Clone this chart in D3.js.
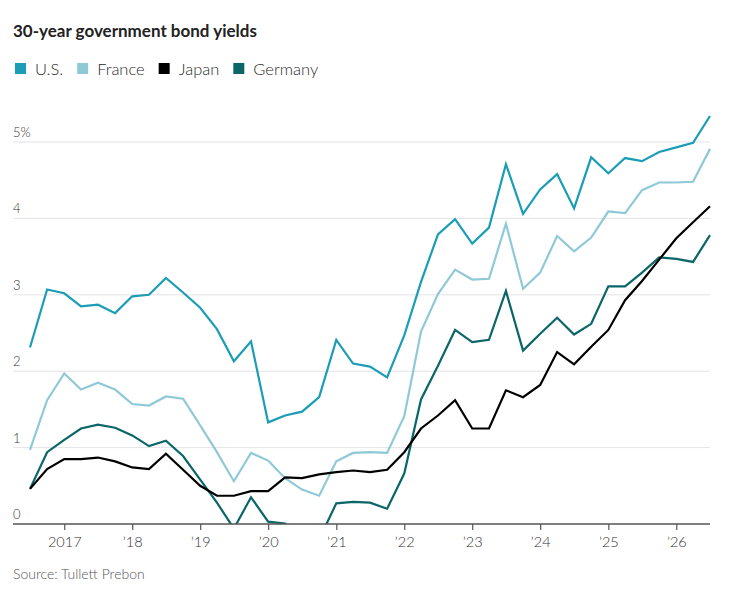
<!DOCTYPE html>
<html>
<head>
<meta charset="utf-8">
<script src="https://cdn.jsdelivr.net/npm/d3@7"></script>
<style>
  html, body { margin: 0; padding: 0; background: #fff; }
  svg { display: block; font-family: Lato, "Open Sans", sans-serif; }
</style>
</head>
<body>
<svg id="chart" width="730" height="598"></svg>
<script>
// ---- Data (quarterly) ----
const dates = [
  "2016-07-01","2016-10-01","2017-01-01","2017-04-01","2017-07-01","2017-10-01",
  "2018-01-01","2018-04-01","2018-07-01","2018-10-01","2019-01-01","2019-04-01",
  "2019-07-01","2019-10-01","2020-01-01","2020-04-01","2020-07-01","2020-10-01",
  "2021-01-01","2021-04-01","2021-07-01","2021-10-01","2022-01-01","2022-04-01",
  "2022-07-01","2022-10-01","2023-01-01","2023-04-01","2023-07-01","2023-10-01",
  "2024-01-01","2024-04-01","2024-07-01","2024-10-01","2025-01-01","2025-04-01",
  "2025-07-01","2025-10-01","2026-01-01","2026-04-01","2026-07-01"
];
const usYields = [2.31,3.07,3.02,2.85,2.87,2.76,2.98,3.00,3.22,3.03,2.83,2.55,2.13,2.39,1.33,1.42,1.47,1.66,2.41,2.10,2.06,1.92,2.47,3.17,3.79,3.99,3.67,3.88,4.71,4.06,4.38,4.58,4.13,4.80,4.59,4.79,4.75,4.87,4.93,4.99,5.34];
const franceYields = [0.97,1.62,1.97,1.76,1.85,1.76,1.57,1.55,1.67,1.64,1.29,0.94,0.56,0.93,0.83,0.60,0.45,0.37,0.82,0.93,0.94,0.93,1.41,2.52,3.01,3.33,3.20,3.21,3.93,3.08,3.29,3.77,3.57,3.75,4.09,4.07,4.37,4.47,4.47,4.48,4.91];
const japanYields = [0.46,0.72,0.85,0.85,0.87,0.82,0.74,0.72,0.92,0.71,0.50,0.37,0.37,0.43,0.43,0.61,0.60,0.65,0.68,0.70,0.68,0.71,0.94,1.25,1.42,1.62,1.25,1.25,1.75,1.66,1.82,2.25,2.09,2.32,2.54,2.93,3.18,3.46,3.74,3.95,4.16];
const germanyYields = [0.46,0.94,1.10,1.25,1.30,1.26,1.16,1.02,1.09,0.89,0.58,0.28,-0.06,0.35,0.03,0.005,-0.20,-0.20,0.27,0.29,0.28,0.20,0.66,1.63,2.07,2.54,2.38,2.41,3.05,2.27,2.49,2.70,2.48,2.62,3.11,3.11,3.29,3.49,3.47,3.43,3.78];

const seriesNames = ["U.S.", "France", "Japan", "Germany"];
const seriesColors = ["#1a9db5", "#8fc9d7", "#000000", "#0b6668"];
const yTicks = [0, 1, 2, 3, 4, 5];
const xTickYears = ["2017-01-01","2018-01-01","2019-01-01","2020-01-01","2021-01-01","2022-01-01","2023-01-01","2024-01-01","2025-01-01","2026-01-01"];
const xTickLabels = ["2017","\u201918","\u201919","\u201920","\u201921","\u201922","\u201923","\u201924","\u201925","\u201926"];

const title = "30-year government bond yields";
const source = "Source: Tullett Prebon";

// ---- Layout ----
const parse = d3.utcParse("%Y-%m-%d");
const dateObjs = dates.map(parse);
const allSeries = [usYields, franceYields, japanYields, germanyYields];

const svg = d3.select("#chart");
const plotLeft = 13, plotRight = 710, plotTop = 142, plotBottom = 524;

const x = d3.scaleUtc()
  .domain([dateObjs[0], dateObjs[dateObjs.length - 1]])
  .range([30, plotRight]);
const y = d3.scaleLinear().domain([0, 5]).range([plotBottom, plotTop]);

// Title
svg.append("text")
  .attr("x", plotLeft).attr("y", 37)
  .attr("font-size", 17).attr("font-weight", 700)
  .attr("fill", "#222")
  .text(title);

// Legend
let lx = 15;
const legend = svg.append("g");
seriesNames.forEach((name, i) => {
  legend.append("rect")
    .attr("x", lx).attr("y", 63).attr("width", 11).attr("height", 11)
    .attr("fill", seriesColors[i]);
  const t = legend.append("text")
    .attr("x", lx + 20).attr("y", 74.5)
    .attr("font-size", 16.5).attr("font-weight", 300).attr("fill", "#2a2a2a")
    .text(name);
  lx += 20 + t.node().getComputedTextLength() + 14;
});

// Gridlines
svg.append("g").selectAll("line")
  .data(yTicks.filter(d => d !== 0))
  .join("line")
  .attr("x1", plotLeft).attr("x2", plotRight)
  .attr("y1", d => y(d)).attr("y2", d => y(d))
  .attr("stroke", "#e3e3e8").attr("stroke-width", 1);

// Y labels
svg.append("g").selectAll("text")
  .data(yTicks)
  .join("text")
  .attr("x", plotLeft).attr("y", d => y(d) - 5)
  .attr("font-size", 13).attr("font-weight", 300).attr("fill", "#333")
  .text(d => d === 5 ? "5%" : String(d));

// Clip for lines (values below zero are hidden)
svg.append("clipPath").attr("id", "plotclip")
  .append("rect").attr("x", 0).attr("y", 0).attr("width", 730).attr("height", plotBottom);

const line = d3.line()
  .x((d, i) => x(dateObjs[i]))
  .y(d => y(d));

const drawOrder = [1, 0, 3, 2];
svg.append("g").attr("clip-path", "url(#plotclip)")
  .selectAll("path")
  .data(drawOrder)
  .join("path")
  .attr("d", i => line(allSeries[i]))
  .attr("fill", "none")
  .attr("stroke", i => seriesColors[i])
  .attr("stroke-width", 2.2)
  .attr("stroke-linejoin", "miter")
  .attr("stroke-linecap", "butt");

// X axis
const xAxis = d3.axisBottom(x)
  .tickValues(xTickYears.map(parse))
  .tickFormat((d, i) => xTickLabels[i])
  .tickSize(6)
  .tickSizeOuter(0);
const ax = svg.append("g").attr("transform", `translate(0,${plotBottom})`).call(xAxis);
ax.select(".domain").attr("d", `M${plotLeft},0H${plotRight}`).attr("stroke", "#555").attr("stroke-width", 1.5);
ax.selectAll(".tick line").attr("stroke", "#555").attr("stroke-width", 1.2);
ax.selectAll(".tick text")
  .attr("font-family", "Lato, sans-serif")
  .attr("font-size", 14.5).attr("font-weight", 300).attr("fill", "#333").attr("dy", 0).attr("y", 23);

// Source
svg.append("text")
  .attr("x", plotLeft).attr("y", 579)
  .attr("font-size", 14).attr("font-weight", 300).attr("fill", "#555")
  .text(source);
</script>
</body>
</html>
